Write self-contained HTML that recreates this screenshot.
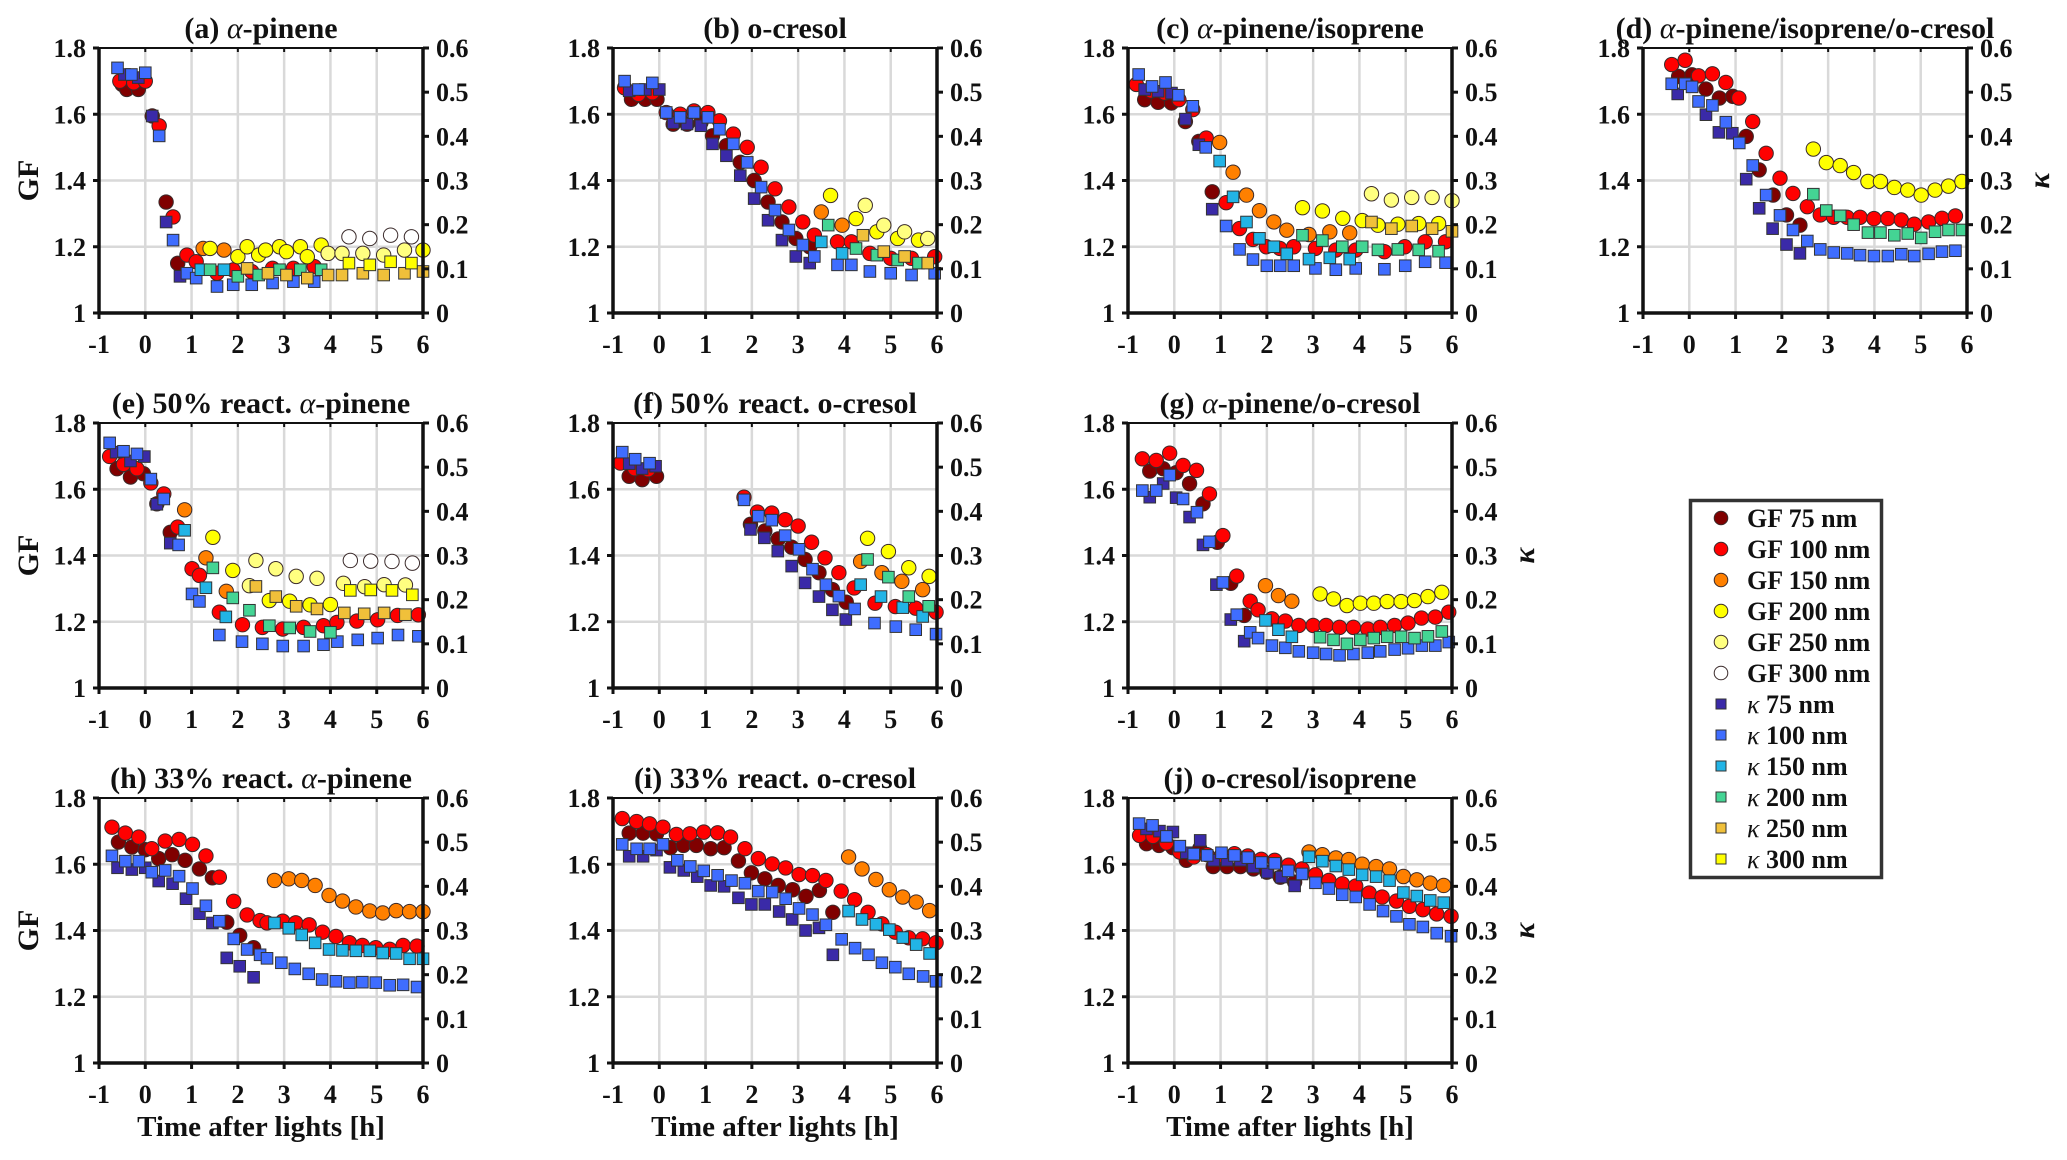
<!DOCTYPE html>
<html><head><meta charset="utf-8">
<style>
html,body{margin:0;padding:0;background:#fff;}
svg{display:block;}
text{font-family:"Liberation Serif","DejaVu Serif",serif;font-weight:bold;fill:#111;}
</style></head>
<body>
<svg id="fig" width="2067" height="1160" viewBox="0 0 2067 1160" xmlns="http://www.w3.org/2000/svg"></svg>
<script>
// ---------- data (t in hours, GF or kappa values) ----------
const xTicks = [-1,0,1,2,3,4,5,6];
const gfTicks = [1,1.2,1.4,1.6,1.8];
const gfTickLabels = ["1","1.2","1.4","1.6","1.8"];
const kTicks = [0,0.1,0.2,0.3,0.4,0.5,0.6];
const kTickLabels = ["0","0.1","0.2","0.3","0.4","0.5","0.6"];
const seriesNames = ["GF 75 nm","GF 100 nm","GF 150 nm","GF 200 nm","GF 250 nm","GF 300 nm","κ 75 nm","κ 100 nm","κ 150 nm","κ 200 nm","κ 250 nm","κ 300 nm"];
const panelTitles = ["(a) |α|-pinene","(b) o-cresol","(c) |α|-pinene/isoprene","(d) |α|-pinene/isoprene/o-cresol","(e) 50% react. |α|-pinene","(f) 50% react. o-cresol","(g) |α|-pinene/o-cresol","(h) 33% react. |α|-pinene","(i) 33% react. o-cresol","(j) o-cresol/isoprene"];

// (a)
const a_gf75=[[-0.5,1.69],[-0.4,1.675],[-0.15,1.675],[0.15,1.595],[0.45,1.335],[0.7,1.15]];
const a_gf100=[[-0.55,1.70],[-0.25,1.695],[0,1.70],[0.3,1.565],[0.6,1.29],[0.9,1.175],[1.1,1.155],[1.55,1.12],[1.9,1.13],[2.3,1.125],[2.75,1.135],[3.2,1.135],[3.65,1.14]];
const a_gf150=[[1.25,1.195],[1.7,1.19]];
const a_gf200=[[1.4,1.195],[2.0,1.17],[2.2,1.20],[2.45,1.175],[2.6,1.19],[2.9,1.20],[3.05,1.185],[3.35,1.20],[3.5,1.17],[3.8,1.205],[6.0,1.19]];
const a_gf250=[[3.95,1.18],[4.25,1.18],[4.7,1.18],[5.15,1.175],[5.6,1.19]];
const a_gf300=[[4.4,1.23],[4.85,1.225],[5.3,1.235],[5.75,1.23]];
const a_k75=[[-0.45,0.54],[-0.15,0.533],[0.15,0.446],[0.45,0.206],[0.75,0.083]];
const a_k100=[[-0.6,0.555],[-0.3,0.54],[0,0.544],[0.3,0.401],[0.6,0.165],[0.9,0.09],[1.1,0.079],[1.55,0.06],[1.9,0.064],[2.3,0.064],[2.75,0.068],[3.2,0.071],[3.65,0.071]];
const a_k150=[[1.2,0.098],[1.7,0.098]];
const a_k200=[[1.4,0.098],[2.0,0.083],[2.45,0.086],[2.9,0.098],[3.35,0.098],[3.8,0.098]];
const a_k250=[[2.2,0.101],[2.65,0.09],[3.05,0.086],[3.5,0.079],[3.95,0.086],[4.25,0.086],[4.7,0.09],[5.15,0.086],[5.6,0.09],[6.0,0.094]];
const a_k300=[[4.4,0.113],[4.85,0.109],[5.3,0.116],[5.75,0.113]];
// (b)
const b_gf75=[[-0.6,1.645],[-0.3,1.645],[-0.05,1.645],[0.3,1.57],[0.6,1.57],[0.9,1.575],[1.15,1.535],[1.45,1.505],[1.75,1.455],[2.05,1.40],[2.35,1.335],[2.65,1.275],[2.95,1.225],[3.25,1.20]];
const b_gf100=[[-0.75,1.68],[-0.45,1.66],[-0.15,1.665],[0.15,1.605],[0.45,1.60],[0.75,1.61],[1.05,1.605],[1.3,1.58],[1.6,1.54],[1.9,1.50],[2.2,1.44],[2.5,1.375],[2.8,1.32],[3.1,1.275],[3.35,1.235],[3.85,1.215],[4.15,1.215],[4.55,1.18],[5.0,1.165],[5.45,1.165],[5.95,1.17]];
const b_gf150=[[3.5,1.305],[3.95,1.265]];
const b_gf200=[[3.7,1.355],[4.25,1.285],[4.7,1.245],[5.15,1.225],[5.6,1.22]];
const b_gf250=[[4.45,1.325],[4.85,1.265],[5.3,1.245],[5.8,1.225]];
const b_k75=[[-0.65,0.503],[-0.3,0.506],[0,0.506],[0.3,0.431],[0.6,0.428],[0.9,0.424],[1.15,0.383],[1.45,0.356],[1.75,0.311],[2.05,0.259],[2.35,0.21],[2.65,0.165],[2.95,0.128],[3.25,0.113]];
const b_k100=[[-0.75,0.525],[-0.45,0.506],[-0.15,0.521],[0.15,0.454],[0.45,0.443],[0.75,0.454],[1.05,0.443],[1.3,0.416],[1.6,0.383],[1.9,0.341],[2.2,0.285],[2.5,0.233],[2.8,0.188],[3.1,0.154],[3.35,0.128],[3.85,0.109],[4.15,0.109],[4.55,0.094],[5.0,0.09],[5.45,0.086],[5.95,0.09]];
const b_k150=[[3.5,0.161],[3.95,0.135]];
const b_k200=[[3.65,0.199],[4.25,0.146],[4.7,0.131],[5.15,0.12],[5.6,0.113]];
const b_k250=[[4.4,0.176],[4.85,0.139],[5.3,0.128],[5.8,0.113]];
// (c)
const c_gf75=[[-0.64,1.644],[-0.35,1.636],[-0.06,1.634],[0.24,1.578],[0.53,1.518],[0.82,1.366]];
const c_gf100=[[-0.82,1.69],[-0.5,1.67],[-0.21,1.664],[0.1,1.644],[0.4,1.614],[0.69,1.528],[1.12,1.333],[1.41,1.255],[1.7,1.222],[1.99,1.2],[2.28,1.195],[2.58,1.2],[3.05,1.195],[3.49,1.19],[3.92,1.19],[4.54,1.185],[4.98,1.2],[5.42,1.215],[5.86,1.215]];
const c_gf150=[[0.98,1.515],[1.27,1.425],[1.56,1.356],[1.84,1.309],[2.15,1.275],[2.43,1.25],[2.91,1.237],[3.36,1.245],[3.79,1.242]];
const c_gf200=[[2.77,1.318],[3.2,1.308],[3.64,1.286],[4.06,1.279],[4.4,1.265],[4.83,1.268],[5.28,1.27],[5.71,1.27]];
const c_gf250=[[4.26,1.36],[4.69,1.341],[5.13,1.349],[5.57,1.349],[6.0,1.339]];
const c_k75=[[-0.64,0.506],[-0.35,0.502],[-0.06,0.498],[0.24,0.439],[0.53,0.381],[0.82,0.235]];
const c_k100=[[-0.77,0.54],[-0.48,0.513],[-0.19,0.522],[0.09,0.493],[0.4,0.468],[0.68,0.375],[1.12,0.197],[1.41,0.144],[1.7,0.121],[2.0,0.107],[2.29,0.107],[2.58,0.107],[3.05,0.101],[3.49,0.098],[3.92,0.101],[4.54,0.099],[4.99,0.107],[5.42,0.116],[5.86,0.114]];
const c_k150=[[0.98,0.344],[1.27,0.263],[1.56,0.206],[1.84,0.169],[2.15,0.15],[2.43,0.134],[2.91,0.122],[3.36,0.125],[3.79,0.122]];
const c_k200=[[2.77,0.176],[3.2,0.164],[3.63,0.15],[4.06,0.15],[4.4,0.143],[4.83,0.144],[5.28,0.143],[5.71,0.14]];
const c_k250=[[4.26,0.206],[4.69,0.191],[5.13,0.197],[5.57,0.191],[6.0,0.185]];
// (d)
const d_gf75=[[-0.23,1.714],[0.06,1.719],[0.36,1.676],[0.65,1.649],[0.94,1.654],[1.23,1.533],[1.51,1.432],[1.81,1.356],[2.1,1.296],[2.39,1.265]];
const d_gf100=[[-0.38,1.75],[-0.09,1.763],[0.2,1.716],[0.5,1.722],[0.79,1.696],[1.07,1.649],[1.37,1.578],[1.66,1.482],[1.96,1.407],[2.24,1.361],[2.55,1.321],[2.83,1.296],[3.12,1.289],[3.41,1.289],[3.69,1.289],[3.99,1.285],[4.29,1.285],[4.58,1.281],[4.86,1.268],[5.17,1.275],[5.46,1.286],[5.75,1.293]];
const d_gf200=[[2.68,1.495],[2.96,1.454],[3.26,1.445],[3.55,1.424],[3.86,1.397],[4.13,1.397],[4.43,1.379],[4.72,1.371],[5.01,1.356],[5.31,1.371],[5.6,1.383],[5.89,1.397]];
const d_k75=[[-0.25,0.496],[0.36,0.449],[0.64,0.409],[0.93,0.407],[1.23,0.303],[1.51,0.237],[1.8,0.191],[2.1,0.155],[2.39,0.135]];
const d_k100=[[-0.38,0.519],[-0.09,0.519],[0.06,0.512],[0.2,0.479],[0.5,0.47],[0.79,0.432],[1.08,0.385],[1.37,0.334],[1.66,0.267],[1.96,0.221],[2.24,0.188],[2.55,0.163],[2.83,0.144],[3.12,0.137],[3.41,0.135],[3.69,0.131],[3.99,0.129],[4.29,0.129],[4.58,0.133],[4.86,0.129],[5.17,0.134],[5.46,0.139],[5.75,0.141]];
const d_k200=[[2.68,0.269],[2.96,0.232],[3.26,0.22],[3.55,0.2],[3.86,0.182],[4.13,0.182],[4.43,0.176],[4.72,0.18],[5.01,0.17],[5.31,0.184],[5.6,0.188],[5.89,0.188]];
// (e)
const e_gf75=[[-0.61,1.662],[-0.32,1.637],[-0.04,1.647],[0.25,1.556],[0.54,1.47]];
const e_gf100=[[-0.77,1.699],[-0.47,1.675],[-0.18,1.662],[0.12,1.619],[0.4,1.586],[0.7,1.486],[1.01,1.36],[1.17,1.34],[1.6,1.229],[2.1,1.191],[2.53,1.183],[2.97,1.178],[3.42,1.183],[3.85,1.188],[4.14,1.198],[4.57,1.202],[5.02,1.206],[5.45,1.219],[5.9,1.221]];
const e_gf150=[[0.85,1.538],[1.31,1.393],[1.75,1.292]];
const e_gf200=[[1.46,1.455],[1.89,1.355],[2.68,1.264],[3.12,1.262],[3.56,1.251],[4.0,1.252]];
const e_gf250=[[2.25,1.309],[2.39,1.385],[2.82,1.36],[3.26,1.337],[3.71,1.331],[4.28,1.316],[4.74,1.306],[5.16,1.312],[5.62,1.311]];
const e_gf300=[[4.43,1.385],[4.87,1.383],[5.33,1.382],[5.77,1.377]];
const e_k75=[[-0.63,0.534],[-0.32,0.514],[-0.02,0.524],[0.25,0.416],[0.54,0.328]];
const e_k100=[[-0.77,0.555],[-0.47,0.536],[-0.18,0.53],[0.12,0.473],[0.4,0.428],[0.72,0.324],[1.01,0.213],[1.17,0.196],[1.6,0.12],[2.09,0.105],[2.53,0.1],[2.97,0.095],[3.42,0.095],[3.85,0.098],[4.15,0.105],[4.59,0.109],[5.02,0.113],[5.46,0.12],[5.9,0.117]];
const e_k150=[[0.85,0.357],[1.31,0.227],[1.74,0.161]];
const e_k200=[[1.46,0.272],[1.89,0.204],[2.25,0.176],[2.68,0.141],[3.12,0.136],[3.56,0.128],[4.0,0.126]];
const e_k250=[[2.39,0.23],[2.82,0.207],[3.26,0.185],[3.71,0.179],[4.3,0.17],[4.73,0.168],[5.16,0.17],[5.62,0.166]];
const e_k300=[[4.43,0.221],[4.87,0.222],[5.33,0.221],[5.77,0.211]];
// (f)
const f_gf75=[[-0.65,1.639],[-0.37,1.629],[-0.06,1.639],[1.97,1.494],[2.28,1.474],[2.57,1.45],[2.86,1.425],[3.15,1.388],[3.45,1.348],[3.74,1.297],[4.04,1.259]];
const f_gf100=[[-0.84,1.679],[-0.53,1.662],[-0.24,1.659],[1.83,1.576],[2.12,1.531],[2.43,1.528],[2.72,1.508],[3.0,1.489],[3.29,1.44],[3.58,1.393],[3.88,1.348],[4.21,1.302],[4.66,1.256],[5.1,1.246],[5.54,1.241],[5.98,1.229]];
const f_gf150=[[4.35,1.382],[4.81,1.348],[5.24,1.322],[5.69,1.297]];
const f_gf200=[[4.5,1.452],[4.95,1.412],[5.39,1.363],[5.83,1.337]];
const f_k75=[[-0.65,0.508],[-0.37,0.497],[-0.08,0.502],[1.97,0.359],[2.27,0.34],[2.56,0.31],[2.86,0.276],[3.15,0.238],[3.45,0.207],[3.74,0.177],[4.03,0.155]];
const f_k100=[[-0.8,0.534],[-0.52,0.518],[-0.21,0.509],[1.83,0.426],[2.14,0.389],[2.43,0.38],[2.72,0.345],[3.02,0.314],[3.31,0.269],[3.6,0.234],[3.88,0.208],[4.22,0.179],[4.65,0.147],[5.11,0.139],[5.54,0.132],[5.98,0.122]];
const f_k150=[[4.35,0.234],[4.79,0.207],[5.26,0.182],[5.69,0.162]];
const f_k200=[[4.5,0.291],[4.95,0.251],[5.39,0.207],[5.82,0.185]];
// (g)
const g_gf75=[[-0.53,1.655],[-0.24,1.662],[0.04,1.65],[0.33,1.617],[0.62,1.556],[0.93,1.44],[1.22,1.316],[1.51,1.219]];
const g_gf100=[[-0.69,1.692],[-0.39,1.687],[-0.1,1.709],[0.19,1.672],[0.48,1.657],[0.76,1.586],[1.05,1.46],[1.35,1.338],[1.64,1.262],[1.81,1.236],[2.11,1.209],[2.4,1.202],[2.69,1.189],[3.0,1.189],[3.28,1.189],[3.57,1.183],[3.87,1.183],[4.18,1.178],[4.45,1.183],[4.76,1.189],[5.05,1.196],[5.34,1.211],[5.64,1.214],[5.93,1.229]];
const g_gf150=[[1.97,1.309],[2.25,1.279],[2.54,1.262]];
const g_gf200=[[3.15,1.284],[3.44,1.269],[3.73,1.249],[4.02,1.256],[4.31,1.256],[4.6,1.261],[4.9,1.261],[5.19,1.264],[5.48,1.276],[5.78,1.289]];
const g_k75=[[-0.53,0.432],[-0.24,0.463],[0.04,0.431],[0.33,0.387],[0.62,0.324],[0.91,0.234],[1.22,0.155],[1.51,0.106]];
const g_k100=[[-0.69,0.447],[-0.39,0.447],[-0.1,0.482],[0.19,0.428],[0.49,0.398],[0.76,0.331],[1.05,0.239],[1.35,0.166],[1.64,0.126],[1.81,0.113],[2.11,0.096],[2.4,0.091],[2.69,0.083],[3.0,0.08],[3.28,0.077],[3.57,0.074],[3.87,0.077],[4.18,0.08],[4.45,0.083],[4.76,0.087],[5.05,0.09],[5.35,0.096],[5.64,0.096],[5.93,0.104]];
const g_k150=[[1.97,0.153],[2.25,0.132],[2.54,0.116]];
const g_k200=[[3.15,0.115],[3.44,0.109],[3.73,0.1],[4.02,0.109],[4.31,0.113],[4.6,0.116],[4.9,0.116],[5.19,0.113],[5.48,0.117],[5.78,0.128]];
// (h)
const h_gf75=[[-0.58,1.667],[-0.29,1.652],[0.0,1.644],[0.29,1.617],[0.58,1.629],[0.86,1.612],[1.17,1.586],[1.45,1.559],[1.76,1.425],[2.04,1.385],[2.34,1.348]];
const h_gf100=[[-0.72,1.712],[-0.43,1.694],[-0.14,1.682],[0.14,1.647],[0.43,1.67],[0.73,1.675],[1.02,1.66],[1.31,1.625],[1.6,1.561],[1.91,1.488],[2.2,1.447],[2.48,1.43],[2.63,1.423],[2.97,1.428],[3.25,1.423],[3.54,1.417],[3.83,1.395],[4.12,1.382],[4.41,1.363],[4.69,1.355],[4.98,1.348],[5.28,1.343],[5.57,1.355],[5.87,1.353]];
const h_gf150=[[2.79,1.551],[3.1,1.556],[3.38,1.551],[3.67,1.536],[3.97,1.506],[4.26,1.489],[4.55,1.471],[4.85,1.459],[5.13,1.453],[5.42,1.46],[5.71,1.457],[6.0,1.457]];
const h_k75=[[-0.6,0.442],[-0.29,0.438],[0.0,0.442],[0.29,0.412],[0.59,0.406],[0.88,0.372],[1.17,0.338],[1.45,0.317],[1.76,0.238],[2.04,0.219],[2.34,0.194]];
const h_k100=[[-0.72,0.469],[-0.43,0.457],[-0.14,0.457],[0.14,0.432],[0.43,0.436],[0.73,0.423],[1.02,0.395],[1.31,0.356],[1.6,0.321],[1.91,0.281],[2.2,0.257],[2.48,0.245],[2.63,0.237],[2.94,0.227],[3.23,0.213],[3.53,0.202],[3.82,0.189],[4.12,0.185],[4.41,0.182],[4.69,0.183],[4.98,0.182],[5.28,0.176],[5.57,0.177],[5.87,0.172]];
const h_k150=[[2.79,0.317],[3.1,0.305],[3.38,0.29],[3.67,0.272],[3.97,0.257],[4.26,0.255],[4.55,0.254],[4.85,0.254],[5.13,0.249],[5.42,0.248],[5.71,0.236],[6.0,0.236]];
// (i)
const i_gf75=[[-0.65,1.694],[-0.35,1.694],[-0.06,1.692],[0.24,1.65],[0.52,1.657],[0.8,1.657],[1.11,1.647],[1.4,1.65],[1.71,1.61],[1.99,1.574],[2.28,1.556],[2.57,1.536],[2.88,1.523],[3.17,1.503],[3.46,1.521],[3.75,1.455]];
const i_gf100=[[-0.8,1.738],[-0.49,1.729],[-0.21,1.722],[0.08,1.712],[0.37,1.69],[0.66,1.692],[0.96,1.697],[1.26,1.695],[1.54,1.682],[1.85,1.647],[2.14,1.617],[2.44,1.601],[2.73,1.589],[3.02,1.569],[3.31,1.566],[3.6,1.551],[3.93,1.519],[4.22,1.493],[4.51,1.455],[4.81,1.42],[5.1,1.395],[5.39,1.378],[5.69,1.375],[5.98,1.363]];
const i_gf150=[[4.09,1.622],[4.38,1.586],[4.68,1.554],[4.97,1.523],[5.26,1.501],[5.55,1.486],[5.84,1.46]];
const i_k75=[[-0.65,0.468],[-0.35,0.468],[-0.06,0.482],[0.23,0.443],[0.53,0.436],[0.82,0.422],[1.11,0.402],[1.4,0.4],[1.71,0.374],[1.99,0.359],[2.28,0.359],[2.59,0.343],[2.87,0.325],[3.16,0.3],[3.45,0.306],[3.75,0.245]];
const i_k100=[[-0.8,0.495],[-0.49,0.485],[-0.21,0.485],[0.08,0.495],[0.39,0.459],[0.67,0.445],[0.96,0.435],[1.26,0.425],[1.56,0.413],[1.85,0.407],[2.14,0.389],[2.44,0.387],[2.73,0.372],[3.02,0.35],[3.31,0.336],[3.6,0.313],[3.94,0.28],[4.23,0.26],[4.52,0.245],[4.81,0.227],[5.1,0.217],[5.39,0.202],[5.7,0.196],[5.98,0.185]];
const i_k150=[[4.09,0.344],[4.38,0.325],[4.68,0.314],[4.97,0.302],[5.26,0.284],[5.55,0.268],[5.84,0.248]];
// (j)
const j_gf75=[[-0.6,1.662],[-0.33,1.657],[-0.03,1.65],[0.26,1.612],[0.55,1.647],[0.84,1.593],[1.14,1.593],[1.43,1.593],[1.71,1.586],[2.0,1.576],[2.29,1.561],[2.6,1.546]];
const j_gf100=[[-0.75,1.687],[-0.46,1.684],[-0.17,1.664],[0.12,1.637],[0.42,1.622],[0.71,1.629],[1.02,1.627],[1.3,1.632],[1.59,1.625],[1.88,1.615],[2.17,1.612],[2.47,1.597],[2.76,1.586],[3.05,1.568],[3.34,1.551],[3.63,1.541],[3.92,1.534],[4.21,1.513],[4.49,1.501],[4.8,1.489],[5.08,1.473],[5.37,1.463],[5.67,1.45],[5.98,1.443]];
const j_gf150=[[2.91,1.637],[3.2,1.629],[3.49,1.619],[3.77,1.614],[4.06,1.6],[4.36,1.593],[4.65,1.586],[4.95,1.563],[5.24,1.553],[5.53,1.543],[5.82,1.536]];
const j_k75=[[-0.6,0.53],[-0.32,0.525],[-0.03,0.523],[0.26,0.476],[0.56,0.504],[0.85,0.459],[1.14,0.459],[1.43,0.459],[1.71,0.444],[2.01,0.432],[2.31,0.421],[2.6,0.401]];
const j_k100=[[-0.76,0.542],[-0.47,0.538],[-0.17,0.513],[0.12,0.491],[0.42,0.473],[0.71,0.47],[1.02,0.476],[1.3,0.47],[1.59,0.465],[1.88,0.454],[2.17,0.452],[2.46,0.435],[2.76,0.428],[3.05,0.408],[3.34,0.395],[3.63,0.381],[3.92,0.376],[4.22,0.359],[4.51,0.344],[4.8,0.332],[5.08,0.314],[5.37,0.308],[5.67,0.294],[5.98,0.287]];
const j_k150=[[2.91,0.467],[3.2,0.457],[3.49,0.446],[3.77,0.438],[4.06,0.426],[4.36,0.422],[4.65,0.413],[4.95,0.386],[5.24,0.378],[5.53,0.368],[5.82,0.363]];

// ---------- styling ----------
const fillColors = ["#800000","#ff0000","#ff8000","#ffff00","#ffff80","#ffffff","#3a2aa8","#3f6dff","#22b4e6","#44d494","#f0c03a","#ffff00"];
const NS="http://www.w3.org/2000/svg";
const svg=document.getElementById('fig');
function mk(tag,attrs,parent){const e=document.createElementNS(NS,tag);for(const k in attrs)e.setAttribute(k,attrs[k]);(parent||svg).appendChild(e);return e;}

const PW=324, PH=265;
const layout=[[99,48],[613,48],[1128,48],[1643,48],[99,423],[613,423],[1128,423],[99,798],[613,798],[1128,798]];
const panelSeries=[
 [a_gf75,a_gf100,a_gf150,a_gf200,a_gf250,a_gf300,a_k75,a_k100,a_k150,a_k200,a_k250,a_k300],
 [b_gf75,b_gf100,b_gf150,b_gf200,b_gf250,null,b_k75,b_k100,b_k150,b_k200,b_k250,null],
 [c_gf75,c_gf100,c_gf150,c_gf200,c_gf250,null,c_k75,c_k100,c_k150,c_k200,c_k250,null],
 [d_gf75,d_gf100,null,d_gf200,null,null,d_k75,d_k100,null,d_k200,null,null],
 [e_gf75,e_gf100,e_gf150,e_gf200,e_gf250,e_gf300,e_k75,e_k100,e_k150,e_k200,e_k250,e_k300],
 [f_gf75,f_gf100,f_gf150,f_gf200,null,null,f_k75,f_k100,f_k150,f_k200,null,null],
 [g_gf75,g_gf100,g_gf150,g_gf200,null,null,g_k75,g_k100,g_k150,g_k200,null,null],
 [h_gf75,h_gf100,h_gf150,null,null,null,h_k75,h_k100,h_k150,null,null,null],
 [i_gf75,i_gf100,i_gf150,null,null,null,i_k75,i_k100,i_k150,null,null,null],
 [j_gf75,j_gf100,j_gf150,null,null,null,j_k75,j_k100,j_k150,null,null,null]
];
const letters="abcdefghij";

function titleText(parent,x,y,str,size,name){
  const t=mk('text',{x:x,y:y,'text-anchor':'middle','font-size':size},parent);
  
  
  str.split('|').forEach((part,i)=>{
    const s=mk('tspan',{},t); s.textContent=part;
    if(i%2===1){s.setAttribute('font-style','italic');s.setAttribute('font-weight','normal');}
  });
  return t;
}

layout.forEach((pos,pi)=>{
  const L=pos[0], T=pos[1];
  const xs=t=>L+(t+1)/7*PW;
  const yg=v=>T+PH-(v-1)/0.8*PH;
  const yk=v=>T+PH-v/0.6*PH;
  const g=mk('g',{});
  
  
  const grid=mk('g',{stroke:'#d9d9d9','stroke-width':2.5},g);
  
  
  xTicks.forEach(t=>{if(t>-1&&t<6)mk('line',{x1:xs(t),x2:xs(t),y1:T,y2:T+PH},grid);});
  gfTicks.forEach(v=>{if(v>1&&v<1.8)mk('line',{x1:L,x2:L+PW,y1:yg(v),y2:yg(v)},grid);});
  panelSeries[pi].forEach((ser,si)=>{
    if(!ser)return;
    const sg=mk('g',{},g);
    
    
    ser.forEach(p=>{
      let m;
      if(si<6){
        m=mk('circle',{cx:xs(p[0]),cy:yg(p[1]),r:7.2,fill:fillColors[si],stroke:'#3a2a2a','stroke-width':1},sg);
      } else {
        const cy=yk(p[1]);
        m=mk('rect',{x:xs(p[0])-5.8,y:cy-5.8,width:11.6,height:11.6,fill:fillColors[si],stroke:'#333','stroke-width':1},sg);
      }
      
      
    });
  });
  const ax=mk('g',{stroke:'#111',fill:'none'},g);
  
  
  mk('line',{x1:L,x2:L+PW,y1:T,y2:T,'stroke-width':2},ax);
  mk('line',{x1:L,x2:L+PW,y1:T+PH,y2:T+PH,'stroke-width':3.5},ax);
  mk('line',{x1:L,x2:L,y1:T-1,y2:T+PH+1,'stroke-width':3.5},ax);
  mk('line',{x1:L+PW,x2:L+PW,y1:T-1,y2:T+PH+1,'stroke-width':3.5},ax);
  xTicks.forEach(t=>{
    mk('line',{x1:xs(t),x2:xs(t),y1:T+PH,y2:T+PH+6,'stroke-width':3},ax);
    mk('line',{x1:xs(t),x2:xs(t),y1:T,y2:T+4,'stroke-width':2},ax);
    const lb=mk('text',{x:xs(t),y:T+PH+40,'text-anchor':'middle','font-size':26},g);
    lb.textContent=String(t);
    
    
  });
  gfTicks.forEach((v,k)=>{
    mk('line',{x1:L-6,x2:L,y1:yg(v),y2:yg(v),'stroke-width':3},ax);
    const lb=mk('text',{x:L-13,y:yg(v)+9,'text-anchor':'end','font-size':26},g);
    lb.textContent=gfTickLabels[k];
    
    
  });
  kTicks.forEach((v,k)=>{
    mk('line',{x1:L+PW,x2:L+PW+6,y1:yk(v),y2:yk(v),'stroke-width':3},ax);
    const lb=mk('text',{x:L+PW+13,y:yk(v)+9,'text-anchor':'start','font-size':26},g);
    lb.textContent=kTickLabels[k];
    
    
  });
  titleText(g,L+PW/2,T-10,panelTitles[pi],30,'panel-title');
  if(L<200){
    const yl=mk('text',{x:0,y:0,'text-anchor':'middle','font-size':30,transform:`translate(38,${T+PH/2}) rotate(-90)`},g);
    yl.textContent='GF';
    
    
  }
  if(pi===3||pi===6||pi===9){
    const kl=mk('text',{x:0,y:0,'text-anchor':'middle','font-size':30,'font-style':'italic','font-weight':'normal',transform:`translate(${L+PW+82},${T+PH/2}) rotate(-90)`},g);
    kl.textContent='κ';
    
    
  }
  if(pi>=7){
    const xl=mk('text',{x:L+PW/2,y:1136,'text-anchor':'middle','font-size':29},g);
    xl.textContent='Time after lights [h]';
    
    
  }
});

const lg=mk('g',{});


mk('rect',{x:1690.5,y:500.5,width:191,height:377,fill:'#fff',stroke:'#333','stroke-width':3.5},lg);
seriesNames.forEach((nm,i)=>{
  const cy=518+31*i;
  const e=mk('g',{},lg);
  
  
  if(i<6) mk('circle',{cx:1721,cy:cy,r:6.8,fill:fillColors[i],stroke:'#3a2a2a','stroke-width':1},e);
  else mk('rect',{x:1716,y:cy-5,width:10,height:10,fill:fillColors[i],stroke:'#333','stroke-width':1},e);
  const t=mk('text',{x:1747,y:cy+9,'font-size':26},e);
  if(i<6){t.textContent=nm;}
  else{
    const k=mk('tspan',{'font-style':'italic','font-weight':'normal'},t);k.textContent='κ';
    const r=mk('tspan',{},t);r.textContent=' '+nm.slice(2);
  }
});
</script>
</body></html>
